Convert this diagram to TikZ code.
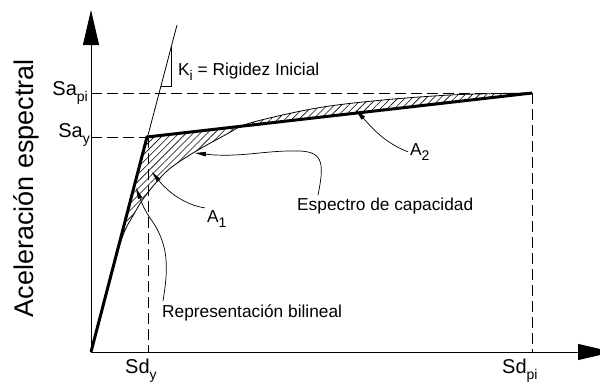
\documentclass[tikz,border=0pt]{standalone}
\usepackage{fontspec}
\setmainfont{Liberation Sans}
\usetikzlibrary{arrows.meta,patterns.meta}
\newcommand\mysub[1]{\raisebox{-0.32em}{\fontsize{14}{14}\selectfont #1}}
\begin{document}
\begin{tikzpicture}[x=1pt,y=-1pt,
  lbl/.style={inner sep=0pt,font=\fontsize{17.3}{20}\selectfont},
  ticklbl/.style={inner sep=0pt,font=\fontsize{20}{24}\selectfont},
  axisline/.style={line width=0.9pt,-{Triangle[length=35pt,width=16pt]}},
  guide/.style={line width=0.7pt,dash pattern=on 11pt off 5pt},
  lead/.style={line width=0.7pt,-{Triangle[length=11pt,width=4.5pt]}},
  bilin/.style={line width=3pt,line join=miter},
  thinl/.style={line width=0.8pt},
  hatch/.style={pattern={Lines[angle=45,distance=5pt,line width=0.6pt]}}
]
\useasboundingbox (0,0) rectangle (600,383);
% key points
\coordinate (O) at (91,352);
\coordinate (Y) at (147,137);
\coordinate (P) at (532,93);
\coordinate (Ytop) at (91,10);
\coordinate (Xend) at (613,352);
\coordinate (Ktop) at (177,25);
\coordinate (SapiL) at (91,93);
\coordinate (SayL) at (91,137);
\coordinate (SdyB) at (148,352);
\coordinate (SdyT) at (148,137);
\coordinate (SdpiB) at (532,352);
\coordinate (Tri1) at (171,47);
\coordinate (Tri2) at (171,86);
\coordinate (Tri3) at (161,86);
\coordinate (tipEsp) at (195,153);
\coordinate (tipA2) at (356,110);
\coordinate (tipA1) at (152,172);
\coordinate (tipRep) at (136,188);

% hatched areas
\path[hatch] plot[smooth,tension=0.55] coordinates {(91,352) (107,292) (122,238) (134,214) (146,195) (167,171) (193,153) (227,134) (250,123) (317,108) (383,100) (450,95) (500,93.5) (532,93)} -- (Y) -- (O) -- cycle;

% guide lines
\draw[guide] (SapiL) -- (P);
\draw[guide] (SayL) -- (Y);
\draw[guide] (SdyT) -- (SdyB);
\draw[guide] (P) -- (SdpiB);

% axes
\draw[axisline] (O) -- (Ytop);
\draw[axisline] (O) -- (Xend);

% initial stiffness line and marker
\draw[thinl] (O) -- (Ktop);
\draw[thinl] (Tri1) -- (Tri2) -- (Tri3);

% capacity curve
\draw[thinl] plot[smooth,tension=0.55] coordinates {(91,352) (107,292) (122,238) (134,214) (146,195) (167,171) (193,153) (227,134) (250,123) (317,108) (383,100) (450,95) (500,93.5) (532,93)};

% bilinear
\draw[bilin] (O) -- (Y) -- (P);

% labels
\node[lbl,anchor=base west] (tK) at (178,75) {K\mysub{i} = Rigidez Inicial};
\node[lbl,anchor=base west] (tEsp) at (297,210) {Espectro de capacidad};
\node[lbl,anchor=base west] (tRep) at (162,317) {Representación bilineal};
\node[lbl,anchor=base west] (tA1) at (207,222) {A\mysub{1}};
\node[lbl,anchor=base west] (tA2) at (410,155) {A\mysub{2}};
\node[ticklbl,anchor=base east] (tSapi) at (88,95) {Sa\mysub{pi}};
\node[ticklbl,anchor=base east] (tSay) at (90,137) {Sa\mysub{y}};
\node[ticklbl,anchor=base west] (tSdy) at (125,373) {Sd\mysub{y}};
\node[ticklbl,anchor=base west] (tSdpi) at (502,373) {Sd\mysub{pi}};
\node[inner sep=0pt,font=\fontsize{27}{30}\selectfont,rotate=90,anchor=base] (tAx) at (34,188) {Aceleración espectral};

% leaders
\draw[lead] ([xshift=21pt,yshift=2pt]tEsp.north west) .. controls (324,165) and (324,152) .. (300,151) .. controls (265,150) and (240,158) .. (tipEsp);
\draw[lead] ([xshift=-2pt]tA2.west) .. controls (385,143) and (372,128) .. (tipA2);
\draw[lead] ([xshift=-2pt,yshift=2pt]tA1.north west) .. controls (185,205) and (168,192) .. (tipA1);
\draw[lead] ([xshift=1pt,yshift=3pt]tRep.north west) .. controls (168,270) and (170,245) .. (150,218) .. controls (143,208) and (140,198) .. (tipRep);
\end{tikzpicture}
\end{document}
